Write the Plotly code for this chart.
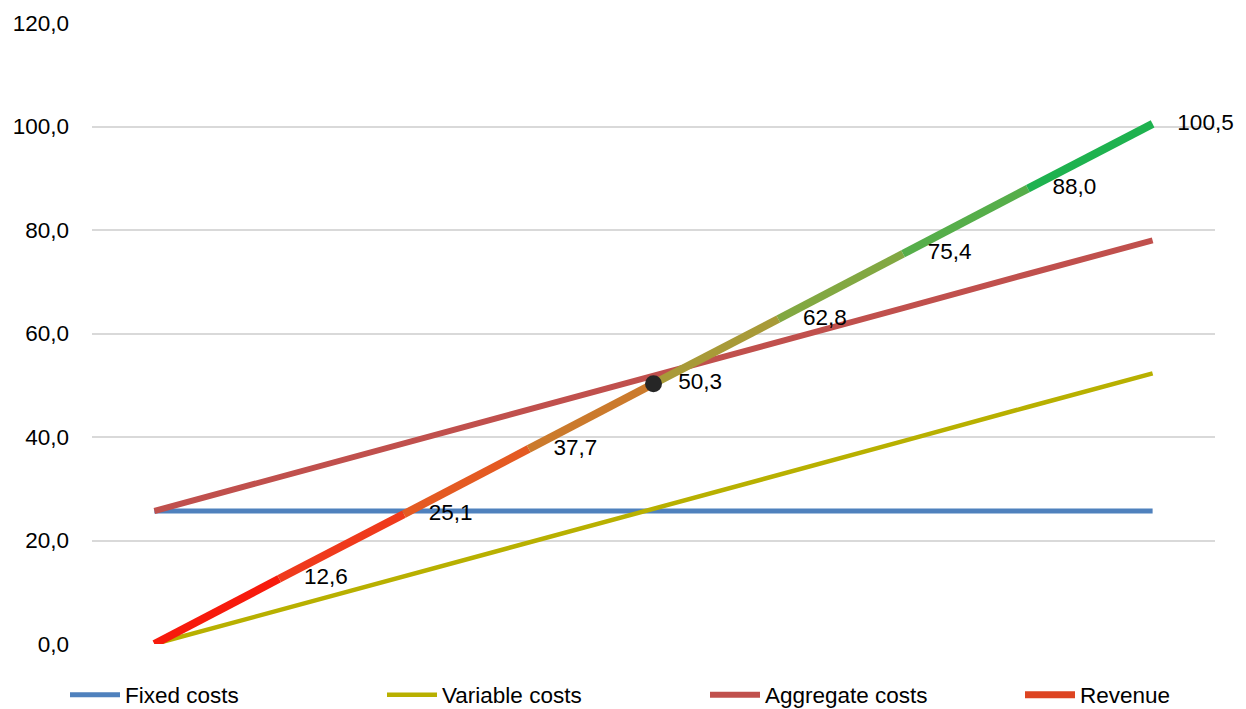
import plotly.graph_objects as go

# ---- data ----
steps = [0, 1, 2, 3, 4, 5, 6, 7, 8]
fixed_costs = [25.7, 25.7, 25.7, 25.7, 25.7, 25.7, 25.7, 25.7, 25.7]
variable_costs = [0.0, 6.5, 13.1, 19.6, 26.2, 32.7, 39.2, 45.8, 52.3]
aggregate_costs = [25.7, 32.2, 38.8, 45.3, 51.9, 58.4, 64.9, 71.5, 78.0]
revenue = [0.0, 12.6, 25.1, 37.7, 50.3, 62.8, 75.4, 88.0, 100.5]
revenue_labels = ["", "12,6", "25,1", "37,7", "50,3", "62,8", "75,4", "88,0", "100,5"]
break_even_index = 4
y_ticks = [0, 20, 40, 60, 80, 100, 120]

# gradient colours for the revenue segments (red -> green)
revenue_segment_colors = ["#F71A0C", "#EF3A1C", "#E45A22", "#CB7A2C",
                          "#A89A38", "#82A842", "#56AE4A", "#1EB24F"]

FONT = "Liberation Sans, Arial, sans-serif"
FS = 22.5

fig = go.Figure()

fig.add_trace(go.Scatter(x=steps, y=fixed_costs, mode="lines", name="Fixed costs",
                         line=dict(color="#4F81BD", width=5), hoverinfo="skip",
                         legend="legend"))
fig.add_trace(go.Scatter(x=steps, y=variable_costs, mode="lines", name="Variable costs",
                         line=dict(color="#B8B000", width=4.5), hoverinfo="skip",
                         legend="legend2"))
fig.add_trace(go.Scatter(x=steps, y=aggregate_costs, mode="lines", name="Aggregate costs",
                         line=dict(color="#C0504D", width=6), hoverinfo="skip",
                         legend="legend3"))

# revenue drawn segment by segment for a gradient effect
for i in range(len(steps) - 1):
    fig.add_trace(go.Scatter(x=steps[i:i + 2], y=revenue[i:i + 2], mode="lines",
                             line=dict(color=revenue_segment_colors[i], width=8),
                             showlegend=False, hoverinfo="skip"))
# legend entry for revenue
fig.add_trace(go.Scatter(x=[None], y=[None], mode="lines", name="Revenue",
                         line=dict(color="#DD4422", width=7), legend="legend4"))

# data labels (invisible markers give the label offset)
fig.add_trace(go.Scatter(x=steps, y=revenue, mode="markers+text", text=revenue_labels,
                         textposition="middle right",
                         textfont=dict(family=FONT, size=FS, color="#000000"),
                         marker=dict(size=38, color="rgba(0,0,0,0)", line=dict(width=0)),
                         showlegend=False, hoverinfo="skip", cliponaxis=False))
# break-even marker
fig.add_trace(go.Scatter(x=[steps[break_even_index]], y=[revenue[break_even_index]],
                         mode="markers",
                         marker=dict(size=17, color="#262626", line=dict(width=0)),
                         showlegend=False, hoverinfo="skip", cliponaxis=False))

L = 92
W = 1246 - 92 - 31


def px2x(px):
    return (px - L) / W


leg_y = (644 - 695) / 621
common = dict(orientation="h", yanchor="middle", y=leg_y, xanchor="left",
              font=dict(family=FONT, size=FS, color="#000000"),
              itemwidth=50, bgcolor="rgba(0,0,0,0)")

fig.update_layout(
    width=1246, height=709,
    margin=dict(l=L, r=31, t=23, b=65, autoexpand=False),
    paper_bgcolor="white", plot_bgcolor="white",
    separators=",.",
    font=dict(family=FONT, size=FS, color="#000000"),
    showlegend=True,
    legend=dict(x=px2x(65), **common),
    legend2=dict(x=px2x(382), **common),
    legend3=dict(x=px2x(705), **common),
    legend4=dict(x=px2x(1020), **common),
    xaxis=dict(range=[-0.5, 8.5], showgrid=False, zeroline=False,
               showticklabels=False, showline=False, ticks=""),
    yaxis=dict(range=[0, 120], tickvals=y_ticks, tickformat=".1f",
               showgrid=True, gridcolor="#D9D9D9", gridwidth=2,
               zeroline=False, showline=False, ticks="",
               ticklabelstandoff=22,
               tickfont=dict(family=FONT, size=FS, color="#000000")),
)

fig.write_html("out.html")
